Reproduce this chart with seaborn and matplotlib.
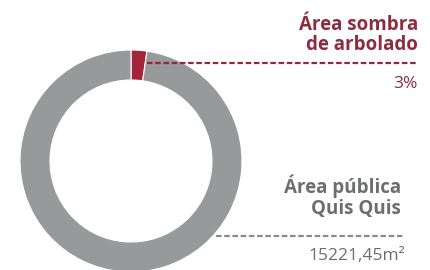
import seaborn as sns
import matplotlib.pyplot as plt

# share of public area shaded by trees
labels = ["Área sombra de arbolado", "Área pública Quis Quis"]
shares = [2.3, 97.7]
share_label = "3%"
area_label = "15221,45m²"

sns.set_theme(style="white")
plt.rcParams['font.family'] = ['Open Sans', 'DejaVu Sans']

red = "#a3253a"
grey = "#97999b"

fig = plt.figure(figsize=(4.3, 2.7), dpi=100)
ax = fig.add_axes([0, 0, 1, 1])

ax.pie(shares, colors=[red, grey], startangle=90, counterclock=False,
       center=(131, 109), radius=111, frame=True,
       wedgeprops=dict(width=30, edgecolor="white", linewidth=0.8))
ax.set_xlim(0, 430)
ax.set_ylim(0, 270)
ax.axis("off")

# leader lines
ax.plot([147, 418], [207, 207], color="#8e2b3f", lw=1.6, dashes=(2.5, 1.2))
ax.plot([216, 405], [34, 34], color="#8a8b8d", lw=1.6, dashes=(2.5, 1.2))

ax.text(418, 235, "Área sombra\nde arbolado", ha="right", va="center",
        fontsize=13.5, fontweight="bold", color="#8e2b3f", linespacing=1.05)
ax.text(418, 186, share_label, ha="right", va="center",
        fontsize=12.5, color="#8e2b3f")
ax.text(401, 73, "Área pública\nQuis Quis", ha="right", va="center",
        fontsize=13.5, fontweight="bold", color="#6d6e70", linespacing=1.05)
ax.text(405, 14, area_label, ha="right", va="center",
        fontsize=12.5, color="#6d6e70")

fig.savefig("out.png", dpi=100)
